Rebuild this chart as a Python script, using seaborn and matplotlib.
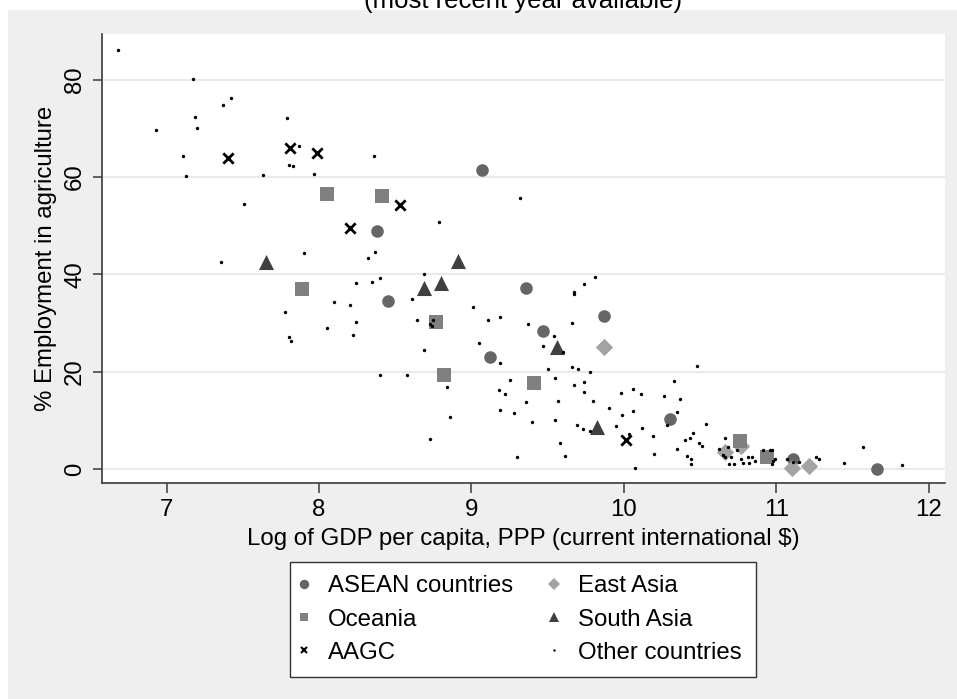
import matplotlib
matplotlib.use("Agg")
import matplotlib.pyplot as plt
from matplotlib.lines import Line2D
from matplotlib.patches import Rectangle
import seaborn as sns
import pandas as pd

# ---- data: log GDP per capita (PPP) vs % employment in agriculture ----
asean_x = [9.07, 8.38, 8.45, 9.36, 9.47, 9.12, 9.87, 10.30, 11.11, 11.66]
asean_y = [61.4, 48.9, 34.5, 37.2, 28.4, 23.0, 31.4, 10.3, 2.1, 0.0]

east_x = [9.87, 10.66, 10.77, 11.10, 11.21]
east_y = [25.1, 3.4, 4.7, 0.1, 0.5]

oceania_x = [8.05, 8.41, 7.89, 8.77, 8.82, 9.41, 10.76, 10.94]
oceania_y = [56.5, 56.0, 37.0, 30.1, 19.3, 17.6, 5.8, 2.5]

south_x = [7.65, 8.69, 8.80, 8.91, 9.56, 9.82]
south_y = [42.5, 37.1, 38.3, 42.7, 25.0, 8.7]

aagc_x = [7.405, 7.81, 7.99, 8.20, 8.53, 10.01]
aagc_y = [63.9, 65.9, 64.9, 49.5, 54.2, 6.0]

other_x = [6.68, 7.176, 6.93, 7.19, 7.20, 7.37, 7.42, 7.79, 7.11, 7.13, 7.87, 7.805,
           7.83, 7.63, 7.97, 8.36, 7.51, 7.90, 7.355, 8.32, 8.37, 8.40,
           9.32, 8.79, 8.24, 8.35, 8.69, 8.10, 8.20, 8.24, 8.22, 8.61, 8.64, 8.73,
           8.74, 8.75, 8.69, 8.40, 8.575, 8.84, 8.86, 8.73, 9.01, 9.11, 9.19, 9.05,
           9.19, 9.37, 9.47, 9.54, 9.60, 9.66, 9.67, 9.675, 9.74, 9.81, 9.50, 9.55,
           9.66, 9.70, 9.78, 9.25, 9.18, 9.22, 9.36, 9.19, 9.28, 9.40, 9.57, 9.67,
           9.74, 9.74, 9.80, 9.55, 9.69, 9.73, 9.78, 9.58, 9.61, 9.30, 9.90, 9.98,
           10.06, 10.11, 9.99, 10.06, 9.95, 10.12, 10.03, 10.19, 10.20, 10.07,
           10.48, 10.33, 10.26, 10.37, 10.35, 10.28, 10.54, 10.35, 10.40, 10.43,
           10.45, 10.49, 10.51, 10.41, 10.44, 10.44, 10.66, 10.62, 10.68, 10.74,
           10.65, 10.66, 10.70, 10.69, 10.72, 10.77, 10.81, 10.84, 10.78, 10.82,
           10.86, 10.91, 10.96, 10.97, 10.98, 10.99, 10.97, 11.07, 11.11, 11.15,
           11.26, 11.28, 11.44, 11.57, 11.82, 7.78, 7.80, 7.815, 8.05]
other_y = [86.1, 80.1, 69.7, 72.4, 70.0, 74.9, 76.2, 72.1, 64.3, 60.2, 66.4, 62.5,
           62.2, 60.4, 60.6, 64.3, 54.5, 44.3, 42.6, 43.4, 44.6, 39.2,
           55.7, 50.7, 38.2, 38.4, 40.1, 34.3, 33.6, 30.1, 27.5, 34.9, 30.7, 29.7,
           29.4, 30.6, 24.5, 19.2, 19.3, 16.9, 10.6, 6.1, 33.2, 30.6, 31.2, 25.8,
           21.8, 29.7, 25.3, 27.3, 24.1, 29.9, 36.3, 35.9, 38.1, 39.5, 20.6, 18.7,
           21.0, 20.6, 20.0, 18.3, 16.2, 15.3, 13.8, 12.2, 11.4, 9.7, 14.0, 17.3,
           17.9, 15.8, 13.9, 10.1, 9.0, 8.2, 7.7, 5.3, 2.7, 2.5, 12.5, 15.6,
           16.4, 15.4, 11.0, 12.0, 8.8, 8.4, 7.2, 6.8, 3.1, 0.1,
           21.2, 18.1, 14.9, 14.4, 11.6, 9.0, 9.2, 4.0, 6.0, 6.3,
           7.4, 5.4, 4.7, 2.7, 2.1, 1.1, 6.4, 4.0, 4.4, 3.9,
           2.9, 2.4, 2.4, 1.0, 1.0, 2.0, 2.5, 2.5, 1.2, 1.2,
           1.6, 3.8, 3.9, 3.9, 1.6, 2.1, 1.0, 2.1, 1.4, 1.4,
           2.5, 2.1, 1.2, 4.5, 0.8, 32.3, 27.1, 26.2, 29.0]

x_ticks = [7, 8, 9, 10, 11, 12]
y_ticks = [0, 20, 40, 60, 80]

FONT = ["Liberation Sans", "DejaVu Sans"]
plt.rcParams["font.family"] = FONT
FS = 17.3

fig = plt.figure(figsize=(9.57, 6.99), dpi=100, facecolor="white")
W, H = 957, 699

# light grey graph region behind the plot area
fig.patches.append(Rectangle((8 / W, 0), 1 - 8 / W, 1 - 10 / H,
                             transform=fig.transFigure, facecolor="#efefef",
                             edgecolor="none", zorder=-10))

ax = fig.add_axes([102 / W, 1 - 483 / H, (945 - 102) / W, (483 - 34) / H])
ax.set_zorder(1)
ax.set_facecolor("white")

# series: (x, y, label, marker, colour, size, linewidth)
series = [
    (asean_x, asean_y, "ASEAN countries", "o", "#666666", 82, 0),
    (east_x, east_y, "East Asia", "D", "#a3a3a3", 78, 0),
    (oceania_x, oceania_y, "Oceania", "s", "#808080", 88, 0),
    (south_x, south_y, "South Asia", "^", "#404040", 118, 0),
    (aagc_x, aagc_y, "AAGC", "x", "black", 55, 2.0),
    (other_x, other_y, "Other countries", "o", "black", 6, 0),
]
for i, (xs, ys, lab, mk, col, sz, lw) in enumerate(series):
    df = pd.DataFrame({"x": xs, "y": ys})
    kw = dict(linewidth=lw) if mk == "x" else dict(linewidth=0, edgecolor=col)
    sns.scatterplot(data=df, x="x", y="y", ax=ax, marker=mk, color=col, s=sz,
                    legend=False, zorder=3 + i, **kw)

ax.set_xlim(6.577, 12.105)
ax.set_ylim(-2.9, 89.4)
ax.set_xticks(x_ticks)
ax.set_yticks(y_ticks)
ax.set_xticklabels([str(v) for v in x_ticks])
ax.set_yticklabels([str(v) for v in y_ticks])
ax.grid(False)
for v in y_ticks:
    ax.axhline(v, color="#eaeaea", linewidth=1.5, zorder=1)

for side in ["top", "right"]:
    ax.spines[side].set_visible(False)
for side in ["left", "bottom"]:
    ax.spines[side].set_color("#3a3a3a")
    ax.spines[side].set_linewidth(1.2)

ax.tick_params(axis="x", direction="out", length=7.2, width=1.1, color="#3a3a3a",
               labelsize=FS, pad=4)
ax.tick_params(axis="y", direction="out", length=6.5, width=1.1, color="#3a3a3a",
               labelsize=FS, pad=5)
plt.setp(ax.get_yticklabels(), rotation=90, va="center")

ax.set_xlabel("Log of GDP per capita, PPP (current international $)", fontsize=FS,
              va="center")
ax.xaxis.set_label_coords(0.5, (483 - 539) / (483 - 34))
ax.set_ylabel("% Employment in agriculture", fontsize=FS, va="center")
ax.yaxis.set_label_coords((46 - 102) / (945 - 102), 0.5)

fig.text(523 / W, 1 - 8 / H, "(most recent year available)", fontsize=18.5,
         ha="center", va="baseline")

# legend: rows ASEAN/East Asia, Oceania/South Asia, AAGC/Other
def key(marker, color, ms, mew=0.0):
    return Line2D([], [], linestyle="none", marker=marker, color=color,
                  markersize=ms, markeredgewidth=mew,
                  markeredgecolor=color if marker == "x" else "none")

handles = [key("o", "#666666", 6.8), key("s", "#808080", 6.4), key("x", "black", 5.0, 1.5),
           key("D", "#a3a3a3", 5.8), key("^", "#404040", 7.4), key("o", "black", 1.7)]
labels = ["ASEAN countries", "Oceania", "AAGC", "East Asia", "South Asia",
          "Other countries"]
leg = fig.legend(handles, labels, ncol=2, loc="center",
                 bbox_to_anchor=(523 / W, 1 - 619.5 / H), fontsize=FS,
                 frameon=True, fancybox=False, borderpad=0.57, handlelength=0.0,
                 handletextpad=1.01, columnspacing=1.69, labelspacing=0.46)
leg.get_frame().set_edgecolor("#333333")
leg.get_frame().set_linewidth(1.0)
leg.get_frame().set_facecolor("white")
leg.get_frame().set_alpha(1)

fig.savefig("out.png", dpi=100, facecolor="white")
